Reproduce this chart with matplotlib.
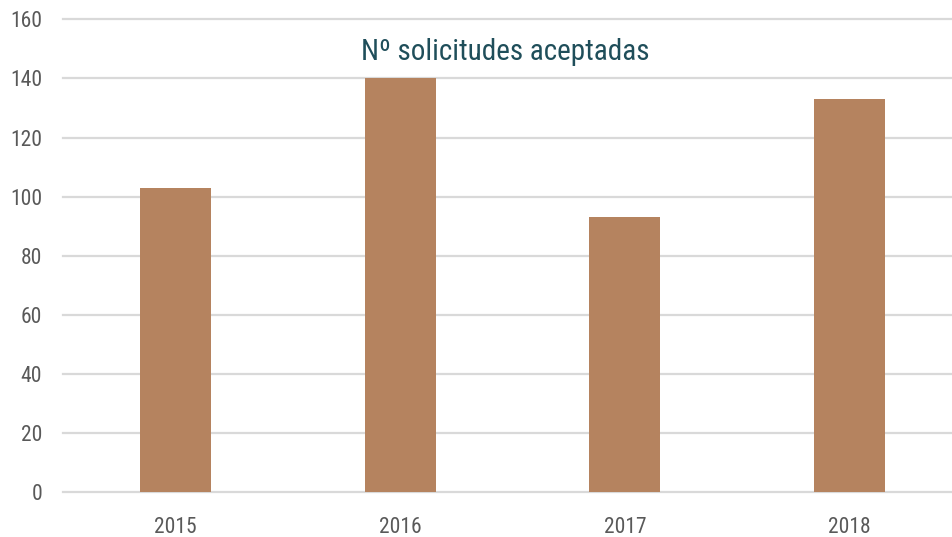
import matplotlib
matplotlib.use("Agg")
import matplotlib.pyplot as plt
from matplotlib import font_manager

years = ["2015", "2016", "2017", "2018"]
accepted = [103, 140, 93, 133]
yTicks = [0, 20, 40, 60, 80, 100, 120, 140, 160]
chartTitle = "Nº solicitudes aceptadas"

# pick the narrowest installed family
names = {f.name for f in font_manager.fontManager.ttflist}
family = "DejaVu Sans"
for candidate in ["Roboto Condensed", "Liberation Sans Narrow", "Open Sans Condensed", "Roboto"]:
    if candidate in names:
        family = candidate
        break
plt.rcParams["font.family"] = [family, "DejaVu Sans"]

fig = plt.figure(figsize=(9.52, 5.37), dpi=100)
left = 63 / 952
bottom = 1 - 492.3 / 537
height = (492.3 - 19.3) / 537
ax = fig.add_axes([left, bottom, 1 - left, height])

x = range(len(years))
ax.bar(x, accepted, width=0.316, color="#B5835F", zorder=3)

ax.set_ylim(0, 160)
ax.set_xlim(-0.5, 3.5 - 10 / 224.7)
ax.set_yticks(yTicks)
ax.set_xticks(list(x))
ax.set_xticklabels(years)
ax.yaxis.grid(True, color="#D9D9D9", linewidth=1.6, zorder=0)
for line in ax.get_ygridlines():
    line.set_clip_on(False)
ax.set_axisbelow(True)
for side in ["left", "right", "top", "bottom"]:
    ax.spines[side].set_visible(False)
ax.tick_params(axis="both", length=0, labelsize=15.5, colors="#595959")
ax.tick_params(axis="y", pad=15)
ax.tick_params(axis="x", pad=18)

fig.text(505 / 952, 1 - 52 / 537, chartTitle, ha="center", va="center",
         fontsize=21, color="#1F4E5A")

fig.savefig("out.png", dpi=100)
